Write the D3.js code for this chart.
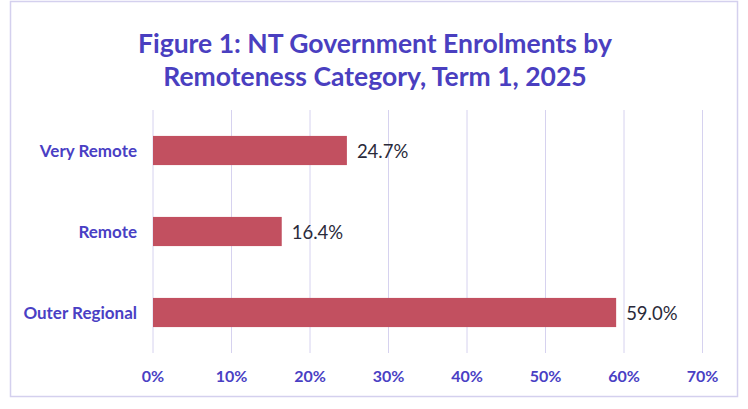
<!DOCTYPE html>
<html>
<head>
<meta charset="utf-8">
<script src="https://cdn.jsdelivr.net/npm/d3@7"></script>
<style>
body{margin:0;background:#fff;font-family:Lato,"Open Sans",sans-serif;}
</style>
</head>
<body>
<div id="chart"></div>
<script>
var categories = ["Very Remote", "Remote", "Outer Regional"];
var values = [24.7, 16.4, 59.0];
var tickValues = [0, 10, 20, 30, 40, 50, 60, 70];

var width = 748, height = 409;
var svg = d3.select('#chart').append('svg')
	.attr('width', width).attr('height', height);

// border
svg.append('rect')
	.attr('x', 10.5).attr('y', 1.5)
	.attr('width', 727).attr('height', 395)
	.style('fill', 'none').style('stroke', '#d4d0ee').style('stroke-width', 1.5);

// title
var title = svg.append('text')
	.attr('text-anchor', 'middle')
	.style('font-size', '26.5px').style('font-weight', 'bold')
	.style('fill', '#4a3fc0');
title.append('tspan').attr('x', 375).attr('y', 53).text('Figure 1: NT Government Enrolments by');
title.append('tspan').attr('x', 375).attr('y', 86).text('Remoteness Category, Term 1, 2025');

var x = d3.scaleLinear().domain([0, 70]).range([153, 702.5]);
var y = d3.scaleBand().domain(categories).range([110, 353]).paddingInner(0.64).paddingOuter(0.32);

// gridlines
svg.append('g').selectAll('line').data(tickValues).enter().append('line')
	.attr('x1', function(d){ return x(d); }).attr('x2', function(d){ return x(d); })
	.attr('y1', 110).attr('y2', 353)
	.style('stroke', '#d6d2ef').style('stroke-width', 1);

// x tick labels
svg.append('g').selectAll('text').data(tickValues).enter().append('text')
	.attr('x', function(d){ return x(d); }).attr('y', 382)
	.attr('text-anchor', 'middle')
	.style('font-size', '16px').style('font-weight', 'bold').style('fill', '#4a3fc4')
	.text(function(d){ return d + '%'; });

// category labels
svg.append('g').selectAll('text').data(categories).enter().append('text')
	.attr('x', 137).attr('y', function(d){ return y(d) + y.bandwidth()/2 + 6; })
	.attr('text-anchor', 'end')
	.style('font-size', '17px').style('font-weight', 'bold').style('fill', '#4a3fc4')
	.text(function(d){ return d; });

// bars
svg.append('g').selectAll('rect').data(values).enter().append('rect')
	.attr('x', x(0))
	.attr('y', function(d, i){ return y(categories[i]); })
	.attr('width', function(d){ return x(d) - x(0); })
	.attr('height', y.bandwidth())
	.style('fill', '#c25060');

// value labels
svg.append('g').selectAll('text').data(values).enter().append('text')
	.attr('x', function(d){ return x(d) + 10; })
	.attr('y', function(d, i){ return y(categories[i]) + y.bandwidth()/2 + 7; })
	.style('font-size', '18.5px').style('fill', '#2a2a3a')
	.text(function(d){ return d.toFixed(1) + '%'; });
</script>
</body>
</html>
